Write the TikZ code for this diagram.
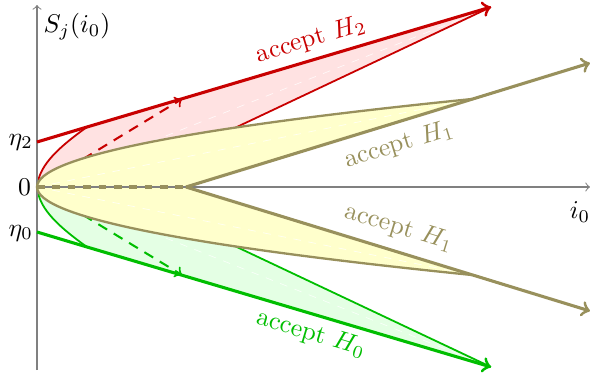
\documentclass[tikz,border=0pt]{standalone}
\usepackage{tikz}
\definecolor{redc}{RGB}{200,0,0}
\definecolor{pinkf}{RGB}{255,226,226}
\definecolor{olivec}{RGB}{152,144,92}
\definecolor{yellowf}{RGB}{255,255,204}
\definecolor{greenc}{RGB}{0,190,0}
\definecolor{greenf}{RGB}{228,255,228}
\definecolor{axisc}{RGB}{128,128,128}
\tikzset{
  axisline/.style={draw=axisc, line width=0.4pt, ->},
  thickline/.style={line width=1.2pt, ->},
  thinline/.style={line width=0.7pt},
  dashline/.style={line width=0.8pt, dash pattern=on 4pt off 3pt, ->},
  centerline/.style={draw=white, line width=0.25pt, dashed, draw opacity=0.8},
  lbl/.style={inner sep=1pt},
}
\begin{document}
\begin{tikzpicture}[x=0.39pt, y=-0.39pt]
\useasboundingbox (0,0) rectangle (600,378);
% coordinates
\coordinate (O) at (37,187);
\coordinate (E2) at (37,142);
\coordinate (K2) at (87,127);
\coordinate (T2) at (491,7);
\coordinate (Q2) at (150,168);
\coordinate (D2) at (182,99);
\coordinate (E0) at (37,232);
\coordinate (K0) at (87,247);
\coordinate (T0) at (491,367);
\coordinate (Q0) at (150,206);
\coordinate (D0) at (182,275);
\coordinate (B) at (186,187);
\coordinate (C1) at (472,99);
\coordinate (C1b) at (472,275);
\coordinate (A1) at (590,63);
\coordinate (A1b) at (590,311);
\coordinate (XE) at (590,187);
\coordinate (YS) at (37,370);
\coordinate (YE) at (37,5);
% pink region
\fill[pinkf] (O) .. controls (39,168) and (52,152) .. (K2) -- (T2) -- (Q2) -- cycle;
\draw[centerline] (O) -- (T2);
\draw[redc, thinline] (O) .. controls (39,168) and (52,152) .. (K2);
\draw[redc, thinline] (T2) -- (Q2);
\draw[redc, dashline] (O) -- (D2);
% green region
\fill[greenf] (O) .. controls (39,206) and (52,222) .. (K0) -- (T0) -- (Q0) -- cycle;
\draw[centerline] (O) -- (T0);
\draw[greenc, thinline] (O) .. controls (39,206) and (52,222) .. (K0);
\draw[greenc, thinline] (T0) -- (Q0);
\draw[greenc, dashline] (O) -- (D0);
% yellow region
\fill[yellowf] (O) .. controls (37,157.67) and (182,128.33) .. (C1) -- (B) -- (C1b) .. controls (182,245.67) and (37,216.33) .. (O) -- cycle;
\draw[centerline] (O) -- (C1);
\draw[centerline] (O) -- (C1b);
% axes
\draw[axisline] (O) -- (XE);
\draw[axisline] (YS) -- (YE);
% olive
\draw[olivec, line width=0.9pt] (O) .. controls (37,157.67) and (182,128.33) .. (C1);
\draw[olivec, line width=0.9pt] (O) .. controls (37,216.33) and (182,245.67) .. (C1b);
\draw[olivec, line width=1.2pt, dashed] (O) -- (B);
\draw[olivec, thickline] (B) -- (A1);
\draw[olivec, thickline] (B) -- (A1b);
% thick red / green
\draw[redc, thickline] (E2) -- (K2) -- (T2);
\draw[greenc, thickline] (E0) -- (K0) -- (T0);
% labels
\node[lbl] (ylab) at (77,27) {$S_j(i_0)$};
\node[lbl] (xlab) at (580,212) {$i_0$};
\node[lbl, anchor=east] (eta2) at (36,142) {$\eta_2$};
\node[lbl, anchor=east] (zero) at (34,187) {$0$};
\node[lbl, anchor=east] (eta0) at (36,233) {$\eta_0$};
\node[lbl, redc, rotate=16.6] (acc2) at (311,40) {accept $H_2$};
\node[lbl, olivec, rotate=17] (acc1a) at (399,145) {accept $H_1$};
\node[lbl, olivec, rotate=-17] (acc1b) at (399,228) {accept $H_1$};
\node[lbl, greenc, rotate=-16.6] (acc0) at (311,334) {accept $H_0$};
\end{tikzpicture}
\end{document}
